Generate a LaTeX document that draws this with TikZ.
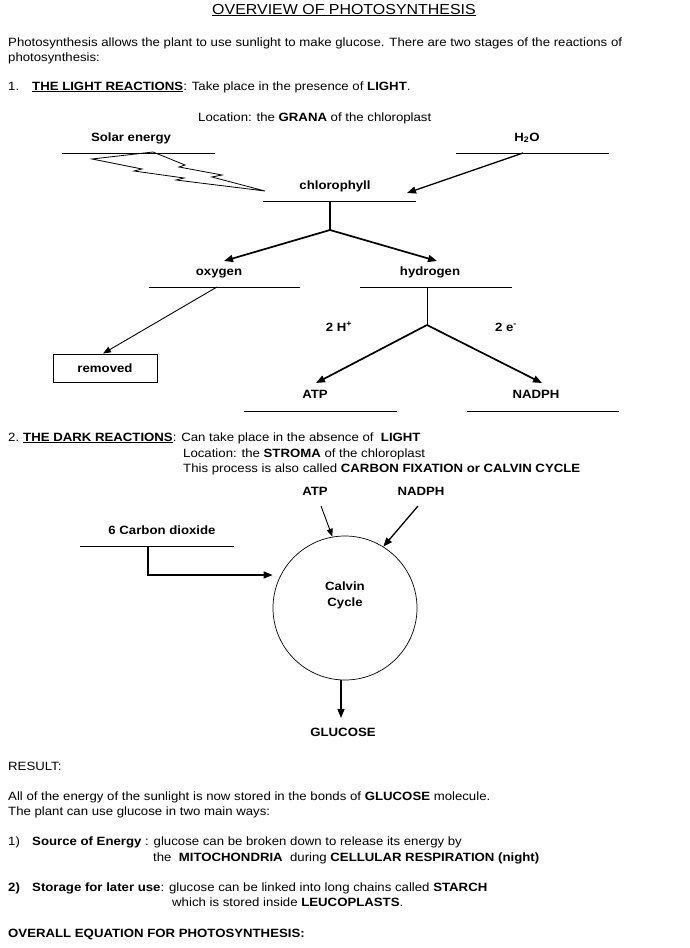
\documentclass[tikz,border=0pt]{standalone}
\usepackage{fontspec}
\setmainfont{Liberation Sans}[FakeStretch=1.1]
\usetikzlibrary{arrows.meta}
\begin{document}
\begin{tikzpicture}[x=1pt,y=-1pt,
  every node/.style={font=\fontsize{12}{14}\selectfont, inner sep=0pt},
  txt/.style={anchor=base west},
  lbl/.style={anchor=base, font=\fontsize{12}{14}\selectfont\bfseries},
  uline/.style={line width=0.9pt},
  arr/.style={-{Triangle[length=9pt,width=7pt]}, line width=1.7pt},
  thinarr/.style={-{Triangle[length=8pt,width=6pt]}, line width=0.9pt},
  midarr/.style={-{Triangle[length=9pt,width=7pt]}, line width=1.3pt}
]
\useasboundingbox (0,0) rectangle (690,948);

% title and intro
\node[anchor=base, font=\fontsize{14.5}{17}\selectfont] (title) at (344,14) {\underline{OVERVIEW OF PHOTOSYNTHESIS}};
\node[txt] (intro1) at (8,46) {Photosynthesis allows the plant to use sunlight to make glucose. There are two stages of the reactions of};
\node[txt] (intro2) at (8,61) {photosynthesis:};
\node[txt] (s1num) at (8,90) {1.};
\node[txt] (s1) at (32,90) {\underline{\textbf{THE LIGHT REACTIONS}}: Take place in the presence of \textbf{LIGHT}.};
\node[txt] (grana) at (198,121) {Location: the \textbf{GRANA} of the chloroplast};

% light reactions diagram
\node[lbl] (solar) at (131,141) {Solar energy};
\coordinate (solarL) at (62,153); \coordinate (solarR) at (215,153);
\draw[uline] (solarL) -- (solarR);

\node[lbl] (water) at (527,141) {H\textsubscript{2}O};
\coordinate (waterL) at (456,153); \coordinate (waterR) at (609,153);
\coordinate (waterA) at (523,153);
\draw[uline] (waterL) -- (waterR);

\node[lbl] (chl) at (335,189) {chlorophyll};
\coordinate (chlL) at (263,201); \coordinate (chlR) at (416,201);
\coordinate (chlM) at (330,201); \coordinate (chlJ) at (330,230);
\coordinate (chlIn) at (407,193);
\draw[uline] (chlL) -- (chlR);
\draw[midarr] (waterA) -- (chlIn);

% lightning bolt
\draw[line width=0.8pt, line join=miter] (153,152) -- (185,165) -- (179,167) -- (222,175) -- (212,177) -- (265,191)
  -- (176,180) -- (184,178) -- (134,171) -- (142,169) -- (92,159) -- cycle;

\draw[line width=1.7pt] (chlM) -- (chlJ);
\coordinate (oxyIn) at (224,261); \coordinate (hydIn) at (437,261);
\draw[arr] (chlJ) -- (oxyIn);
\draw[arr] (chlJ) -- (hydIn);

\node[lbl] (oxy) at (219,275) {oxygen};
\coordinate (oxyL) at (149,287); \coordinate (oxyR) at (300,287);
\draw[uline] (oxyL) -- (oxyR);
\node[lbl] (hyd) at (430,275) {hydrogen};
\coordinate (hydL) at (360,287); \coordinate (hydR) at (512,287);
\draw[uline] (hydL) -- (hydR);

\node[draw, line width=0.9pt, minimum width=104pt, minimum height=28pt, font=\fontsize{12}{14}\selectfont\bfseries] (removed) at (105,368) {removed};
\coordinate (oxyA) at (217,287);
\draw[thinarr] (oxyA) -- (removed.north -| 103,0);

\node[lbl] (hplus) at (339,331) {2 H\textsuperscript{+}};
\node[lbl] (eminus) at (506,331) {2 e\textsuperscript{-}};
\coordinate (hydM) at (427,287); \coordinate (hydJ) at (427,325);
\draw[line width=1pt] (hydM) -- (hydJ);
\coordinate (atpIn) at (316,383); \coordinate (nadIn) at (542,383);
\draw[arr] (hydJ) -- (atpIn);
\draw[arr] (hydJ) -- (nadIn);

\node[lbl] (atp1) at (315,398) {ATP};
\coordinate (atp1L) at (244,411); \coordinate (atp1R) at (397,411);
\draw[uline] (atp1L) -- (atp1R);
\node[lbl] (nad1) at (536,398) {NADPH};
\coordinate (nad1L) at (467,411); \coordinate (nad1R) at (619,411);
\draw[uline] (nad1L) -- (nad1R);

% dark reactions
\node[txt] (s2num) at (8,441) {2.};
\node[txt] (s2) at (23,441) {\underline{\textbf{THE DARK REACTIONS}}: Can take place in the absence of \ \textbf{LIGHT}};
\node[txt] (stroma) at (183,457) {Location: the \textbf{STROMA} of the chloroplast};
\node[txt] (calvintxt) at (183,472) {This process is also called \textbf{CARBON FIXATION or CALVIN CYCLE}};

\node[lbl] (atp2) at (315,495) {ATP};
\node[lbl] (nad2) at (421,495) {NADPH};

\node[draw, circle, line width=0.7pt, minimum size=144pt] (cycle) at (345,608) {};
\node[align=center, font=\fontsize{12}{16}\selectfont\bfseries] (cyclelbl) at (345,595) {Calvin\\Cycle};

\coordinate (atp2S) at (321,506);
\draw[thinarr] (atp2S) -- (cycle.100);
\coordinate (nad2S) at (418,506);
\draw[midarr] (nad2S) -- (cycle.58);

\node[lbl] (co2) at (162,534) {6 Carbon dioxide};
\coordinate (co2L) at (80,546); \coordinate (co2R) at (234,546);
\draw[uline] (co2L) -- (co2R);
\coordinate (co2M) at (148,546); \coordinate (co2C) at (148,575);
\draw[midarr] (co2M) -- (co2C) -- (co2C -| cycle.west);

\coordinate (gluIn) at (341,718);
\draw[midarr] (cycle.south -| gluIn) -- (gluIn);
\node[lbl] (glucose) at (343,736) {GLUCOSE};

% result
\node[txt] (result) at (8,770) {RESULT:};
\node[txt] (res1) at (8,800) {All of the energy of the sunlight is now stored in the bonds of \textbf{GLUCOSE} molecule.};
\node[txt] (res2) at (8,815) {The plant can use glucose in two main ways:};
\node[txt] (w1num) at (8,845) {1)};
\node[txt] (w1) at (32,845) {\textbf{Source of Energy} : glucose can be broken down to release its energy by};
\node[txt] (w1b) at (153,861) {the \ \textbf{MITOCHONDRIA} \ during \textbf{CELLULAR RESPIRATION (night)}};
\node[txt, font=\fontsize{12}{14}\selectfont\bfseries] (w2num) at (8,891) {2)};
\node[txt] (w2) at (32,891) {\textbf{Storage for later use}: glucose can be linked into long chains called \textbf{STARCH}};
\node[txt] (w2b) at (172,906) {which is stored inside \textbf{LEUCOPLASTS}.};
\node[txt, font=\fontsize{12}{14}\selectfont\bfseries] (overall) at (8,937) {OVERALL EQUATION FOR PHOTOSYNTHESIS:};
\end{tikzpicture}
\end{document}
